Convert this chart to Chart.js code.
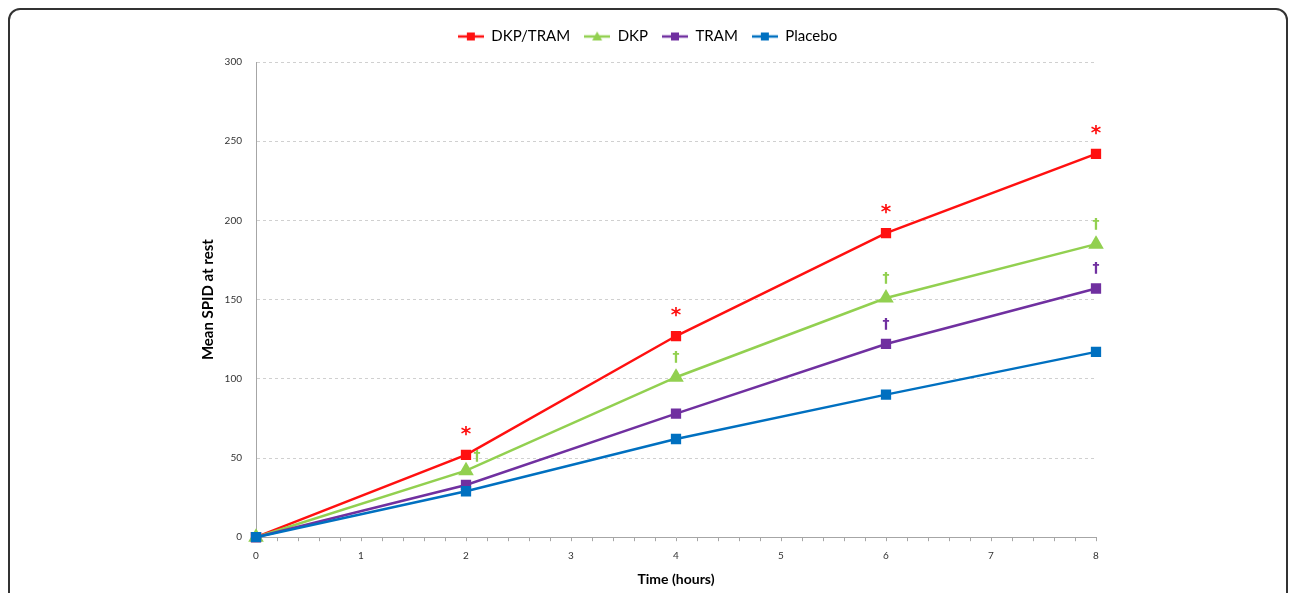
<!DOCTYPE html>
<html>
<head>
<meta charset="utf-8">
<script src="https://cdn.jsdelivr.net/npm/chart.js@4.4.1/dist/chart.umd.min.js"></script>
<style>
    html, body { margin: 0; padding: 0; background: #fff; }
    #wrap { position: relative; width: 1295px; height: 593px; overflow: hidden; }
    #frame {
        position: absolute; left: 8px; top: 8px; width: 1280px; height: 640px;
        border: 2px solid #333; border-radius: 12px; box-sizing: border-box;
    }
    #chartBox { position: absolute; left: 0; top: 0; width: 1295px; height: 593px; }
</style>
</head>
<body>
<div id="wrap">
    <div id="frame"></div>
    <div id="chartBox"><canvas id="mainGraph"></canvas></div>
</div>
<script>
const times = [0, 2, 4, 6, 8]
const dkpTram = [0, 52, 127, 192, 242]
const dkp = [0, 42, 101, 151, 185]
const tram = [0, 33, 78, 122, 157]
const placebo = [0, 29, 62, 90, 117]
const yTicks = [0, 50, 100, 150, 200, 250, 300]

// significance marks: which time points get a symbol
const starTimes = [2, 4, 6, 8]
const dkpDaggerTimes = [2, 4, 6, 8]
const tramDaggerTimes = [6, 8]

const lineCanvas = document.getElementById("mainGraph")
const fontFamily = "Lato, 'Open Sans', sans-serif"

const seriesInfo = [
    {label: "DKP/TRAM", values: dkpTram, color: "#FF1010", marker: "rect"},
    {label: "DKP", values: dkp, color: "#92D050", marker: "triangle"},
    {label: "TRAM", values: tram, color: "#7030A0", marker: "rect"},
    {label: "Placebo", values: placebo, color: "#0070C0", marker: "rect"}
]

// little legend icon: line with marker in the middle
const makeLegendIcon = (color, marker) => {
    const c = document.createElement("canvas")
    c.width = 26
    c.height = 12
    const ctx = c.getContext("2d")
    ctx.strokeStyle = color
    ctx.lineWidth = 2.5
    ctx.beginPath()
    ctx.moveTo(0, 6)
    ctx.lineTo(26, 6)
    ctx.stroke()
    ctx.fillStyle = color
    if (marker === "triangle") {
        ctx.beginPath()
        ctx.moveTo(13, 1)
        ctx.lineTo(18, 10)
        ctx.lineTo(8, 10)
        ctx.closePath()
        ctx.fill()
    } else {
        ctx.fillRect(9, 2, 8, 8)
    }
    return c
}

const datasets = seriesInfo.map((s, i) => ({
    label: s.label,
    data: times.map((t, k) => ({x: t, y: s.values[k]})),
    borderColor: s.color,
    backgroundColor: s.color,
    borderWidth: 2.5,
    pointStyle: s.marker,
    pointRadius: s.marker === "triangle" ? 6.5 : 5.5,
    pointBackgroundColor: s.color,
    pointBorderColor: s.color,
    tension: 0,
    clip: false,
    order: seriesInfo.length - i,
    legendIcon: makeLegendIcon(s.color, s.marker)
}))

const drawMarks = (chart, dsIndex, marks, symbol, color, size, dy, firstShift) => {
    const ctx = chart.ctx
    const xScale = chart.scales.x
    const yScale = chart.scales.y
    const values = seriesInfo[dsIndex].values
    ctx.save()
    ctx.fillStyle = color
    ctx.font = `bold ${size}px 'DejaVu Sans', sans-serif`
    ctx.textAlign = "center"
    ctx.textBaseline = "middle"
    marks.forEach((t, k) => {
        const idx = times.indexOf(t)
        let px = xScale.getPixelForValue(t)
        let py = yScale.getPixelForValue(values[idx]) - dy
        if (k === 0 && firstShift) {
            px += firstShift[0]
            py += firstShift[1]
        }
        ctx.fillText(symbol, px, py)
    })
    ctx.restore()
}

const marksPlugin = {
    id: "sigMarks",
    afterDatasetsDraw(chart) {
        drawMarks(chart, 0, starTimes, "*", "#FF1010", 20, 20, null)
        drawMarks(chart, 1, dkpDaggerTimes, "†", "#92D050", 14, 20, [11, 6])
        drawMarks(chart, 2, tramDaggerTimes, "†", "#7030A0", 14, 20, null)
    }
}

// extra room under the legend
const legendSpacer = {
    id: "legendSpacer",
    beforeInit(chart) {
        const origFit = chart.legend.fit
        chart.legend.fit = function fit() {
            origFit.bind(chart.legend)()
            this.height += 8
        }
    }
}

const chartConfig = {
    type: "line",
    data: {datasets: datasets},
    options: {
        responsive: false,
        animation: false,
        layout: {padding: {left: 199, right: 199, top: 15, bottom: 5}},
        scales: {
            x: {
                type: "linear",
                min: 0,
                max: 8,
                grid: {
                    display: true,
                    drawOnChartArea: false,
                    drawTicks: true,
                    tickLength: 4,
                    color: "#A6A6A6"
                },
                border: {color: "#A6A6A6", width: 1},
                ticks: {
                    stepSize: 0.2,
                    autoSkip: false,
                    maxRotation: 0,
                    color: "#333",
                    padding: 9,
                    font: {size: 10, family: fontFamily},
                    callback: (v) => Math.abs(v - Math.round(v)) < 1e-6 ? String(Math.round(v)) : ""
                },
                title: {
                    display: true,
                    text: "Time (hours)",
                    color: "#000",
                    font: {size: 14, weight: "bold", family: fontFamily},
                    padding: {top: 0, bottom: 0}
                }
            },
            y: {
                min: 0,
                max: 300,
                afterBuildTicks: (scale) => {
                    scale.ticks = yTicks.map((v) => ({value: v}))
                },
                afterFit: (scale) => {
                    scale.width = 57
                },
                grid: {
                    color: (ctx) => ctx.tick && ctx.tick.value === 0 ? "rgba(0,0,0,0)" : "#D0D0D0",
                    drawTicks: false
                },
                border: {color: "#A6A6A6", dash: [3, 3], display: true},
                ticks: {
                    color: "#333",
                    padding: 14,
                    font: {size: 10, family: fontFamily}
                },
                title: {
                    display: true,
                    text: "Mean SPID at rest",
                    color: "#000",
                    font: {size: 15, weight: "bold", family: fontFamily},
                    padding: {top: 0, bottom: 0}
                }
            }
        },
        plugins: {
            legend: {
                display: true,
                position: "top",
                labels: {
                    color: "#000",
                    usePointStyle: true,
                    pointStyleWidth: 26,
                    padding: 14,
                    font: {size: 15, family: fontFamily},
                    sort: (a, b) => a.datasetIndex - b.datasetIndex,
                    generateLabels: (chart) => chart.data.datasets.map((ds, i) => ({
                        text: ds.label,
                        pointStyle: ds.legendIcon,
                        fillStyle: ds.borderColor,
                        strokeStyle: ds.borderColor,
                        fontColor: "#000",
                        lineWidth: 0,
                        hidden: false,
                        datasetIndex: i
                    }))
                }
            },
            tooltip: {enabled: false}
        }
    },
    plugins: [marksPlugin, legendSpacer]
}

lineCanvas.width = 1295
lineCanvas.height = 593
new Chart(lineCanvas, chartConfig)
</script>
</body>
</html>
